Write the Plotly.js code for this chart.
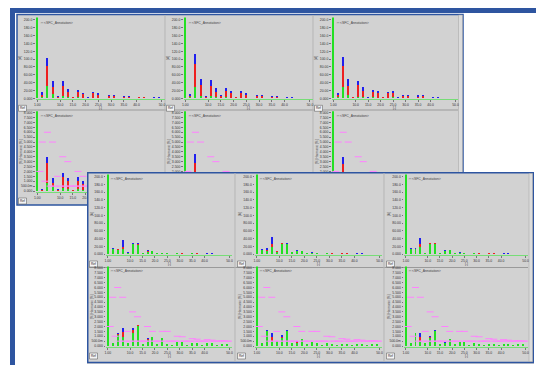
<!DOCTYPE html>
<html><head><meta charset="utf-8">
<script src="https://cdn.plot.ly/plotly-3.0.1.min.js"></script>
<style>
html,body{margin:0;padding:0;background:#fff;width:536px;height:365px;overflow:hidden;position:relative}
#back{position:absolute;left:0;top:0;width:536px;height:365px}
#front{position:absolute;left:87px;top:172px;width:447px;height:192px}
</style></head><body>
<div id="back"></div><div id="front"></div>
<script>
// ---------- data ----------
const HARM = [1,3,5,7,9,11,13,15,17,19,21,23,25,27,29,31,33,35,37,39,41,43,45,47,49];
const X_TICKS = [1,10,15,20,25,30,35,40,50];
const X_TEXT = ['1.00','10.0','15.0','20.0','25.0','30.0','35.0','40.0','50.0'];
const A_TICKS = [0,20,40,60,80,100,120,140,160,180,200];
const A_TEXT = ['0.000','20.00','40.00','60.00','80.00','100.0','120.0','140.0','160.0','180.0','200.0'];
const P_TICKS = [0,0.5,1,1.5,2,2.5,3,3.5,4,4.5,5,5.5,6,6.5,7,7.5,8];
const P_TEXT = ['0.000','500.0m','1.000','1.500','2.000','2.500','3.000','3.500','4.000','4.500','5.000','5.500','6.000','6.500','7.000','7.500','8.000'];

// back window, top row (amplitude)
const B1_G = [230,4,31.5,11,1,6,4,0.5,3,2,0.5,2,1.5,0.5,1,1,0.3,1,1,0.3,0.5,0.5,0.3,0.5,0.5];
const B1_R = [0,4.5,51,17,2,25.5,13,2,13,8,1,11,7.5,0.5,4,4,0.3,3.5,3.5,0.5,2,2,0.3,1.5,1.5];
const B1_B = [0,6.5,21.5,16,3,12.5,7,1,5,4.5,1,4,4,1,3.5,3.5,0.4,2.5,2.5,0.7,1.5,1.5,0.4,1,1];
const B2_G = [230,2.5,28,6,1,5,3,1,3,2,0.5,2,1.5,0.5,1,1,0.3,1,1,0.5,0.5,0.5,0.3,0.5,0.5];
const B2_R = [0,3.5,60,27,3,27,14,4,15,11,2,11,7,0.5,5,4,0.5,3,3,0.5,1.5,1.5,0.3,0.5,0.5];
const B2_B = [0,4,25,16,2,15,8.5,3.5,7.5,6,1.5,6,4.5,1,3,4,0.7,3,2,1,1,1,0.4,1,1];
const B3_G = [230,4,28,8.5,1,4,3,0.5,3,2,0.5,2,3,0.5,1,1,0.5,1,1,0.3,0.5,0.5,0.3,0.5,0.3];
const B3_R = [0,4.5,55,23,1.5,29,16.5,1.5,14,12.5,2,11,10.5,1,5,4,0.5,3.5,4,0.3,1.5,1.5,0.3,0.5,0.5];
const B3_B = [0,4.5,22,17,1.5,11,8.5,1,4,4.5,1.5,3,6,1.5,2.5,2.6,1,3,3.5,0.4,1,1,0.4,1,0.7];
// back window, bottom row (percent)
const B4_G = [100,0.05,0.78,0.44,0.05,0.3,0.2,0.03,0.2,0.15,0.03,0.1,0.1,0.03,0.05,0.05,0.02,0.05,0.05,0.02,0.03,0.03,0.02,0.03,0.03];
const B4_R = [0,0.1,2.05,0.41,0.07,1.16,0.86,0.06,0.86,0.57,0.06,0.4,0.3,0.03,0.15,0.15,0.02,0.12,0.12,0.02,0.07,0.07,0.02,0.05,0.05];
const B4_B = [0,0.1,0.67,0.45,0.08,0.41,0.24,0.06,0.4,0.34,0.06,0.2,0.1,0.04,0.1,0.1,0.02,0.08,0.08,0.02,0.05,0.05,0.02,0.03,0.03];
const B5_G = [100,0.08,0.9,0.2,0.03,0.17,0.1,0.03,0.1,0.07,0.02,0.07,0.05,0.02,0.03,0.03,0.01,0.03,0.03,0.02,0.02,0.02,0.01,0.02,0.02];
const B5_R = [0,0.12,2.0,0.9,0.1,0.9,0.46,0.13,0.5,0.36,0.07,0.36,0.23,0.02,0.17,0.13,0.02,0.1,0.1,0.02,0.05,0.05,0.01,0.02,0.02];
const B5_B = [0,0.13,0.85,0.55,0.07,0.5,0.28,0.12,0.25,0.2,0.05,0.2,0.15,0.03,0.1,0.13,0.02,0.1,0.07,0.03,0.03,0.03,0.01,0.03,0.03];
const B6_G = [100,0.13,0.92,0.28,0.03,0.13,0.1,0.02,0.1,0.07,0.02,0.07,0.1,0.02,0.03,0.03,0.02,0.03,0.03,0.01,0.02,0.02,0.01,0.02,0.01];
const B6_R = [0,0.15,1.8,0.76,0.05,0.96,0.54,0.05,0.46,0.41,0.07,0.36,0.35,0.03,0.17,0.13,0.02,0.12,0.13,0.01,0.05,0.05,0.01,0.02,0.02];
const B6_B = [0,0.15,0.73,0.56,0.05,0.36,0.28,0.03,0.13,0.15,0.05,0.1,0.2,0.05,0.08,0.09,0.03,0.1,0.12,0.01,0.03,0.03,0.01,0.03,0.02];
// front window, top row (amplitude)
const F1_G = [230,12,10,12,3.5,25,23,2.5,6,7.7,1.5,3,1.5,0.8,1.5,1.2,0.5,1.5,1.2,0.5,1,1,0.4,0.8,0.8];
const F1_R = [0,1,2,7,0.3,2,2,0.3,2,0.3,0.2,0.2,0.2,0.1,0.2,0.2,0.1,0.2,0.2,0.1,0.2,0.2,0.1,0.1,0.1];
const F1_B = [0,1.5,1,18.6,0.2,2,3,0.2,2,0.3,0.3,0.2,0.3,0.1,0.3,0.2,0.1,0.3,0.2,0.1,0.2,0.2,0.1,0.1,0.1];
const F2_G = [230,10,8.5,17,6.5,25.6,25.6,5.5,7,8.5,1.5,3.5,2.5,0.8,1.5,1.2,0.5,1.2,1.2,0.5,1,1,0.4,0.8,0.8];
const F2_R = [0,1,3,10,0.3,2,1.5,0.3,1.5,0.3,0.2,0.3,0.2,0.1,0.2,0.2,0.1,0.2,0.2,0.1,0.2,0.2,0.1,0.1,0.1];
const F2_B = [0,1,3.5,17,0.2,1.5,1.5,0.2,1.5,0.2,0.3,0.2,0.3,0.1,0.3,0.2,0.1,0.2,0.2,0.1,0.2,0.2,0.1,0.1,0.1];
const F3_G = [230,12,12,19,2.5,26,27,2.5,8,10,1.5,3.5,2.5,0.8,1.5,1.2,0.5,1.2,1.2,0.5,1,1,0.4,0.8,0.8];
const F3_R = [0,1,1,7,0.3,1.5,1,0.3,1,0.3,0.2,0.3,0.2,0.1,0.2,0.2,0.1,0.2,0.2,0.1,0.2,0.2,0.1,0.1,0.1];
const F3_B = [0,1.5,1.5,16,0.2,1.5,1,0.2,1,0.2,0.3,0.2,0.3,0.1,0.3,0.2,0.1,0.2,0.2,0.1,0.2,0.2,0.1,0.1,0.1];
// front window, bottom row (percent)
const F4_G = [100,0.3,1.13,0.9,0.3,1.3,2.06,0.25,0.6,0.9,0.2,0.8,0.2,0.15,0.45,0.45,0.15,0.3,0.3,0.1,0.3,0.3,0.1,0.25,0.25];
const F4_R = [0,0.02,0.11,0.58,0.02,0.3,0.05,0,0.1,0,0,0,0,0,0,0,0,0,0,0,0,0,0,0,0];
const F4_B = [0,0.02,0.05,0.34,0.02,0.2,0.05,0,0.1,0,0,0,0,0,0,0,0,0,0,0,0,0,0,0,0];
const F5_G = [100,0.3,1.53,0.5,0.5,0.85,1.53,0.3,0.35,0.7,0.2,0.4,0.3,0.1,0.3,0.25,0.1,0.2,0.2,0.1,0.2,0.2,0.1,0.2,0.2];
const F5_R = [0,0,0.04,0.45,0,0.1,0.04,0,0.08,0,0,0,0,0,0,0,0,0,0,0,0,0,0,0,0];
const F5_B = [0,0,0.04,0.41,0,0.15,0.04,0,0.07,0,0,0,0,0,0,0,0,0,0,0,0,0,0,0,0];
const F6_G = [100,0.27,1.3,0.5,0.3,0.8,1.55,0.2,0.3,0.7,0.2,0.4,0.4,0.1,0.3,0.25,0.1,0.2,0.2,0.1,0.2,0.2,0.1,0.2,0.2];
const F6_R = [0,0,0.04,0.46,0,0.1,0.03,0,0.05,0,0,0,0,0,0,0,0,0,0,0,0,0,0,0,0];
const F6_B = [0,0,0.03,0.34,0,0.13,0.02,0,0.05,0,0,0,0,0,0,0,0,0,0,0,0,0,0,0,0];
// limit marks (percent)
const LIMIT_H = [2,3,4,5,6,7,8,9,10,11,12,13,14,15,16,17,18,19,20,21,22,23,24,25,26,27,28,29,30,31,32,33,34,35,36,37,38,39,40,41,42,43,44,45,46,47,48,49,50];
const LIMIT_V = [2,5,1,6,0.5,5,0.5,1.5,0.5,3.5,0.5,3,0.5,0.5,0.5,2,0.5,1.5,0.5,0.5,0.5,1.5,0.5,1.5,0.5,0.5,0.5,1.0,0.5,0.95,0.5,0.5,0.5,0.75,0.5,0.7,0.5,0.5,0.5,0.65,0.5,0.6,0.5,0.5,0.5,0.55,0.5,0.5,0.5];

const LEGEND_TXT = '<SFC_Annotation>';
const Y_TITLE_A = '[A]';
const Y_TITLE_P = '[%] Harmonic [%]';
const X_TITLE = '[-]';

// ---------- styling / builders ----------
const GRAY = '#d2d2d2', BLUE = '#2e55a0';
const FONT = 'Liberation Sans, Arial, sans-serif';
const C_G = '#22e022', C_R = '#ee2020', C_B = '#2020ee', C_L = '#ff80ff';
const TF = 3.4;

// coveredTitle / coveredRef: cells whose x title / Ref button lie under the front window
function buildFig(W, H, cellsX, plotsX, rowsY, cells, extraShapes, bg, coveredTitle, coveredRef) {
  const data = [], shapes = extraShapes.slice(), ann = [];
  const layout = {width: W, height: H, margin: {l:0,r:0,t:0,b:0}, paper_bgcolor: bg, plot_bgcolor: '#ffffff',
    barmode: 'stack', showlegend: false, font: {family: FONT, size: TF, color: '#333'}};
  cells.forEach((c, k) => {
    const row = Math.floor(k / 3), col = k % 3, s = k === 0 ? '' : String(k + 1);
    const px = plotsX[col], py = rowsY[row], isPct = row === 1;
    const common = {type: 'bar', x: HARM, xaxis: 'x' + s, yaxis: 'y' + s, width: 0.8, hoverinfo: 'skip'};
    data.push(Object.assign({}, common, {y: c[0], marker: {color: C_G, line: {width: 0}}}));
    data.push(Object.assign({}, common, {y: c[1], marker: {color: C_R, line: {width: 0}}}));
    data.push(Object.assign({}, common, {y: c[2], marker: {color: C_B, line: {width: 0}}}));
    if (isPct) data.push({type: 'scatter', mode: 'markers', x: LIMIT_H, y: LIMIT_V, xaxis: 'x' + s, yaxis: 'y' + s,
      marker: {symbol: 'line-ew', size: 5, line: {width: 1, color: C_L}}, hoverinfo: 'skip'});
    layout['xaxis' + s] = {domain: [px[0] / W, px[1] / W], anchor: 'y' + s, range: [0.3, 51],
      tickvals: X_TICKS, ticktext: X_TEXT, ticks: 'outside', ticklen: 1.5, tickcolor: '#777', tickangle: 0,
      tickfont: {size: TF, color: '#333'}, showline: true, linecolor: '#77dd77', linewidth: 1,
      showgrid: false, zeroline: false, fixedrange: true};
    layout['yaxis' + s] = {domain: [1 - py[1] / H, 1 - py[0] / H], anchor: 'x' + s,
      range: isPct ? [-0.1, 8.15] : [-2.5, 206], tickvals: isPct ? P_TICKS : A_TICKS, ticktext: isPct ? P_TEXT : A_TEXT,
      ticks: 'outside', ticklen: 1.5, tickcolor: '#777', tickfont: {size: TF, color: '#333'},
      showline: false, showgrid: false, zeroline: false, fixedrange: true};
    ann.push({xref: 'paper', yref: 'paper', x: (px[0] + 3) / W, y: 1 - (py[0] + 1) / H, xanchor: 'left', yanchor: 'top',
      text: '\u25A1 ' + LEGEND_TXT, showarrow: false, font: {size: 3.4, color: '#444'}});
    ann.push({xref: 'paper', yref: 'paper', x: (cellsX[col] + 3.5) / W, y: 1 - ((py[0] + py[1]) / 2) / H,
      xanchor: 'center', yanchor: 'middle', textangle: -90, text: isPct ? Y_TITLE_P : Y_TITLE_A,
      showarrow: false, font: {size: 3.2, color: '#444'}});
    if (!coveredTitle.includes(k))
      ann.push({xref: 'paper', yref: 'paper', x: ((px[0] + px[1]) / 2) / W, y: 1 - (py[1] + 8.5) / H,
        xanchor: 'center', yanchor: 'middle', text: X_TITLE, showarrow: false, font: {size: 3.4, color: '#444'}});
    if (!coveredRef.includes(k)) {
      const rx = cellsX[col] + 1.5, ry = py[1] + 6;
      shapes.push({type: 'rect', xref: 'paper', yref: 'paper', x0: rx / W, x1: (rx + 8) / W, y0: 1 - (ry + 6) / H, y1: 1 - ry / H,
        fillcolor: '#f4f4f4', line: {color: '#666', width: 0.6}, layer: 'below'});
      ann.push({xref: 'paper', yref: 'paper', x: (rx + 4) / W, y: 1 - (ry + 3) / H, xanchor: 'center', yanchor: 'middle',
        text: 'Ref', showarrow: false, font: {size: 3.2, color: '#222'}});
    }
  });
  layout.shapes = shapes; layout.annotations = ann;
  return {data, layout};
}
function prect(W, H, x0, y0, x1, y1, fill, lc, lw) {
  return {type: 'rect', xref: 'paper', yref: 'paper', x0: x0 / W, x1: x1 / W, y0: 1 - y1 / H, y1: 1 - y0 / H,
    fillcolor: fill, line: {color: lc || 'rgba(0,0,0,0)', width: lw || 0}, layer: 'below'};
}
function pline(W, H, x0, y0, x1, y1, c, w) {
  return {type: 'line', xref: 'paper', yref: 'paper', x0: x0 / W, x1: x1 / W, y0: 1 - y0 / H, y1: 1 - y1 / H,
    line: {color: c, width: w}, layer: 'below'};
}

// back window
const BW = 536, BH = 365;
const backShapes = [
  prect(BW, BH, 10, 8, 536, 13, BLUE),
  prect(BW, BH, 10, 8, 15, 365, BLUE),
  prect(BW, BH, 17, 14.5, 463, 205, GRAY, BLUE, 1.5),
  pline(BW, BH, 17.5, 110, 458, 110, '#9a9a9a', 1),
  pline(BW, BH, 165, 15, 165, 205, '#b5b5b5', 1),
  pline(BW, BH, 313, 15, 313, 205, '#b5b5b5', 1),
  prect(BW, BH, 458.5, 15, 462.5, 204.5, '#dcdcdc', '#a0a0a0', 0.5)
];
const back = buildFig(BW, BH, [17, 165, 313], [[35.5, 164.5], [183.5, 312.5], [331.5, 458]], [[17.6, 99.3], [111.2, 192]],
  [[B1_G, B1_R, B1_B], [B2_G, B2_R, B2_B], [B3_G, B3_R, B3_B], [B4_G, B4_R, B4_B], [B5_G, B5_R, B5_B], [B6_G, B6_R, B6_B]],
  backShapes, '#ffffff', [3, 4, 5], [4, 5]);
Plotly.newPlot('back', back.data, back.layout, {staticPlot: true, displayModeBar: false});

// front window (div placed at left 87, top 172)
const FW = 447, FH = 192, OX = 87, OY = 172;
const frontShapes = [
  prect(FW, FH, 0.75, 0.75, 446.25, 190.5, GRAY, BLUE, 1.5),
  pline(FW, FH, 1, 95.5, 441, 95.5, '#9a9a9a', 1),
  pline(FW, FH, 148, 1, 148, 190, '#b5b5b5', 1),
  pline(FW, FH, 297, 1, 297, 190, '#b5b5b5', 1),
  prect(FW, FH, 442, 1.5, 445.5, 189.5, '#dcdcdc', '#a0a0a0', 0.5)
];
const front = buildFig(FW, FH, [1, 149, 298], [[106 - OX, 232 - OX], [255 - OX, 382 - OX], [404 - OX, 528 - OX]],
  [[174.5 - OY, 255 - OY], [266.5 - OY, 347 - OY]],
  [[F1_G, F1_R, F1_B], [F2_G, F2_R, F2_B], [F3_G, F3_R, F3_B], [F4_G, F4_R, F4_B], [F5_G, F5_R, F5_B], [F6_G, F6_R, F6_B]],
  frontShapes, GRAY, [], []);
Plotly.newPlot('front', front.data, front.layout, {staticPlot: true, displayModeBar: false});
</script></body></html>
